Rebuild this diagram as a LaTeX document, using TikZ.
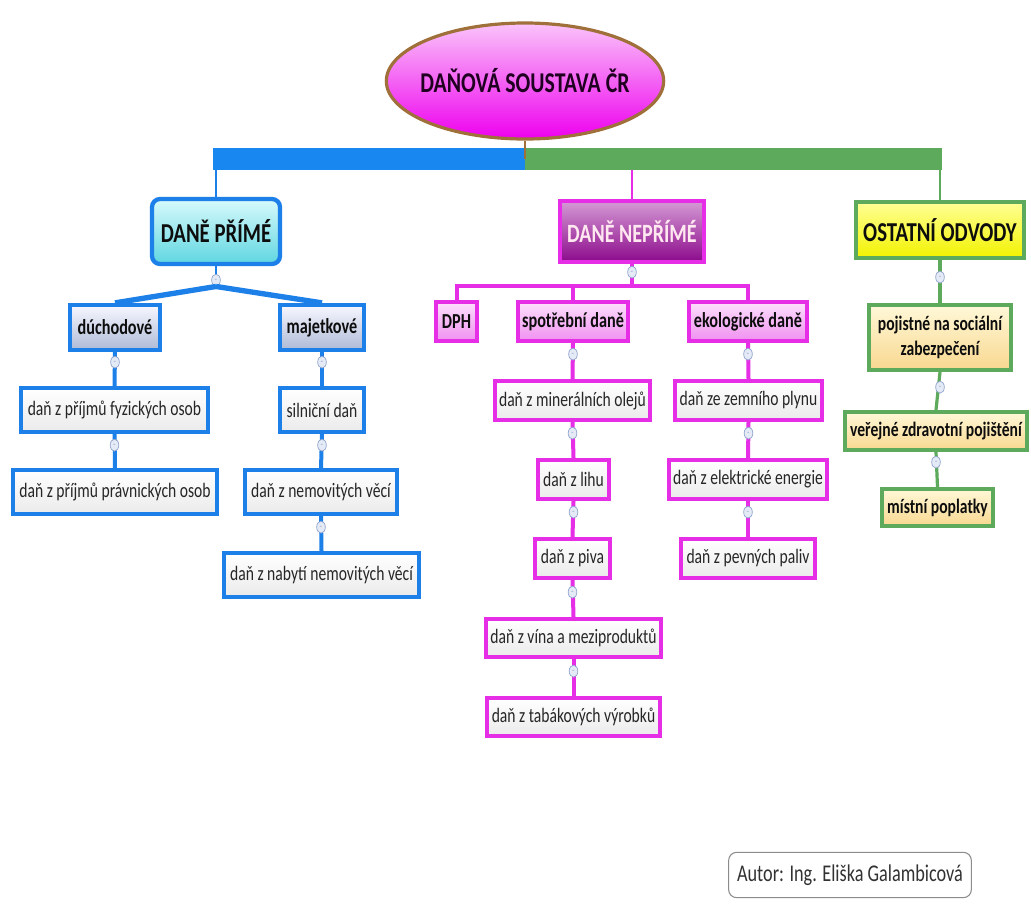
\documentclass[tikz,border=0pt]{standalone}
\usepackage{fontspec}
\setmainfont{Carlito}[FakeStretch=0.76]
\usetikzlibrary{shapes.geometric}
\definecolor{blueC}{HTML}{1C80E8}
\definecolor{blueBar}{HTML}{1888F0}
\definecolor{greenC}{HTML}{5DAA5D}
\definecolor{magC}{HTML}{E62EE6}
\definecolor{rootB}{HTML}{A0703A}
\definecolor{txt}{HTML}{262626}
\newcommand\bx[7]{\node[#2, minimum width={(#5-#3-4)*0.75pt}, minimum height={(#6-#4-4)*0.75pt}] (#1) at ({(#3+#5)/2},{(#4+#6)/2}) {#7};}
\newcommand\cn[4]{\draw[#3] (#1.south) -- (#2.north);
  \node[mk] (k-#1) at ([yshift=-#4*0.75pt]#1.south) {};}
\begin{document}
\begin{tikzpicture}[x=0.75pt,y=-0.75pt,
  box/.style={draw, line width=3.2pt, inner sep=0pt, align=center, text=txt,
    font=\fontsize{15.4}{19}\selectfont},
  boldbox/.style={box, text=black!95, font=\fontsize{16}{19}\selectfont\bfseries},
  head/.style={box, text=black!95, font=\fontsize{20.5}{23}\selectfont\bfseries},
  bleaf/.style={box, draw=blueC, top color=white, bottom color=black!8},
  bsub/.style={boldbox, draw=blueC, top color=blue!3, bottom color={rgb,255:red,174;green,186;blue,214}},
  bhead/.style={head, draw=blueC, rounded corners=6pt, top color={rgb,255:red,216;green,250;blue,252}, bottom color={rgb,255:red,95;green,214;blue,224}},
  mleaf/.style={box, draw=magC, top color=white, bottom color=black!8},
  msub/.style={boldbox, draw=magC, top color={rgb,255:red,252;green,224;blue,252}, bottom color={rgb,255:red,240;green,144;blue,240}},
  mhead/.style={head, font=\fontsize{19.8}{23}\selectfont\bfseries, draw=magC, text={rgb,255:red,255;green,232;blue,240}, top color={rgb,255:red,212;green,154;blue,212}, bottom color={rgb,255:red,140;green,10;blue,140}},
  ghead/.style={head, draw=greenC, top color={rgb,255:red,255;green,255;blue,150}, bottom color={rgb,255:red,242;green,242;blue,0}},
  gsub/.style={boldbox, font=\fontsize{15.4}{19}\selectfont\bfseries, draw=greenC, top color={rgb,255:red,255;green,248;blue,216}, bottom color={rgb,255:red,248;green,216;blue,144}},
  mk/.style={ellipse, draw={rgb,255:red,143;green,162;blue,204}, line width=0.5pt, fill={rgb,255:red,228;green,234;blue,246}, minimum width=6.5pt, minimum height=9pt, inner sep=0pt, font=\fontsize{5}{5}\selectfont, text={rgb,255:red,96;green,112;blue,160}},
  bl/.style={blueC, line width=3pt},
  ml/.style={magC, line width=3pt},
  gl/.style={greenC, line width=2.4pt},
]
\useasboundingbox (0,0) rectangle (1031,904);
\fill[white] (0,0) rectangle (1031,904);

% root
\node[ellipse, draw=rootB, line width=2.4pt, top color={rgb,255:red,250;green,196;blue,250}, bottom color={rgb,255:red,238;green,0;blue,238}, minimum width=208pt, minimum height=87pt, inner ysep=0pt, inner xsep=-30pt, text={rgb,255:red,32;green,0;blue,32}, font=\fontsize{21.5}{24}\selectfont\bfseries] (root) at (525,81) {DAŇOVÁ SOUSTAVA ČR};

% main headings
\bx{dp}{bhead}{150}{197}{282}{266}{DANĚ PŘÍMÉ}
\bx{dn}{mhead}{558}{199}{706}{264}{DANĚ NEPŘÍMÉ}
\bx{oo}{ghead}{854}{200}{1026}{260}{OSTATNÍ ODVODY}

% left branch
\bx{du}{bsub}{68}{303}{162}{352}{dúchodové}
\bx{ma}{bsub}{278}{303}{366}{352}{majetkové}
\bx{f1}{bleaf}{19}{386}{210}{434}{daň z příjmů fyzických osob}
\bx{f2}{bleaf}{11}{468}{219}{516}{daň z příjmů právnických osob}
\bx{m1}{bleaf}{278}{386}{366}{434}{silniční daň}
\bx{m2}{bleaf}{243}{468}{399}{516}{daň z nemovitých věcí}
\bx{m3}{bleaf}{222}{551}{421}{599}{daň z nabytí nemovitých věcí}

% middle branch
\bx{dph}{msub}{434}{300}{479}{343}{DPH}
\bx{sp}{msub}{516}{300}{630}{343}{spotřební daně}
\bx{ek}{msub}{687}{300}{809}{343}{ekologické daně}
\bx{s1}{mleaf}{493}{379}{652}{422}{daň z minerálních olejů}
\bx{s2}{mleaf}{536}{458}{611}{501}{daň z lihu}
\bx{s3}{mleaf}{533}{537}{612}{580}{daň z piva}
\bx{s4}{mleaf}{484}{617}{663}{659}{daň z vína a meziproduktů}
\bx{s5}{mleaf}{485}{696}{662}{738}{daň z tabákových výrobků}
\bx{e1}{mleaf}{673}{379}{824}{422}{daň ze zemního plynu}
\bx{e2}{mleaf}{667}{458}{829}{501}{daň z elektrické energie}
\bx{e3}{mleaf}{679}{537}{817}{580}{daň z pevných paliv}

% right branch
\bx{o1}{gsub}{867}{303}{1013}{372}{pojistné na sociální\\zabezpečení}
\bx{o2}{gsub}{843}{410}{1029}{452}{veřejné zdravotní pojištění}
\bx{o3}{gsub}{880}{487}{995}{528}{místní poplatky}

% author
\node[draw={rgb,255:red,140;green,140;blue,140}, line width=0.8pt, rounded corners=6pt, fill=white, inner sep=0pt, minimum width=182pt, minimum height=34pt, text={rgb,255:red,50;green,50;blue,50}, font=\fontsize{18}{20}\selectfont] (au) at (850,875) {Autor: Ing. Eliška Galambicová};

% top bar
\coordinate (bj) at (525,159);
\draw[blueC, line width=2.2pt] (dp.north |- bj) -- (dp.north);
\draw[magC, line width=2.2pt] (dn.north |- bj) -- (dn.north);
\draw[greenC, line width=2.2pt] (oo.north |- bj) -- (oo.north);
\draw[blueBar, line width=16.5pt] ([xshift=-2pt]dp.north |- bj) -- (bj);
\draw[greenC, line width=16.5pt] (bj) -- ([xshift=1.5pt]oo.north |- bj);
\draw[rootB, line width=1pt] (root.south) -- (bj);

% left connectors
\draw[blueC, line width=2.2pt] (dp.south) -- ([yshift=-14*0.75pt]dp.south);
\node[mk] (k-dp) at ([yshift=-14*0.75pt]dp.south) {--};
\draw[blueC, line width=4pt] (k-dp.south) -- (du.north);
\draw[blueC, line width=4pt] (k-dp.south) -- (ma.north);
\cn{du}{f1}{bl}{10}
\cn{f1}{f2}{bl}{11}
\cn{ma}{m1}{bl}{10}
\cn{m1}{m2}{bl}{11}
\cn{m2}{m3}{bl}{11}

% middle connectors
\coordinate (hb) at (632,286);
\draw[ml] (dn.south) -- (hb);
\node[mk] (k-dn) at ([yshift=-8*0.75pt]dn.south) {--};
\draw[ml] (dph.north) |- (hb) -| (ek.north);
\draw[ml] (sp.north) -- (sp.north |- hb);
\cn{sp}{s1}{ml}{11}
\cn{s1}{s2}{ml}{11}
\cn{s2}{s3}{ml}{11}
\cn{s3}{s4}{ml}{12}
\cn{s4}{s5}{ml}{12}
\cn{ek}{e1}{ml}{11}
\cn{e1}{e2}{ml}{11}
\cn{e2}{e3}{ml}{11}

% right connectors
\cn{oo}{o1}{gl}{17}
\cn{o1}{o2}{gl}{15}
\cn{o2}{o3}{gl}{10}

% marker glyphs on top of chain markers
\foreach \n in {du,f1,ma,m1,m2,sp,s1,s2,s3,s4,ek,e1,e2,oo,o1,o2}
  \node[font=\fontsize{5}{5}\selectfont, text={rgb,255:red,96;green,112;blue,160}, inner sep=0pt] (t-\n) at (k-\n) {--};
\end{tikzpicture}
\end{document}
